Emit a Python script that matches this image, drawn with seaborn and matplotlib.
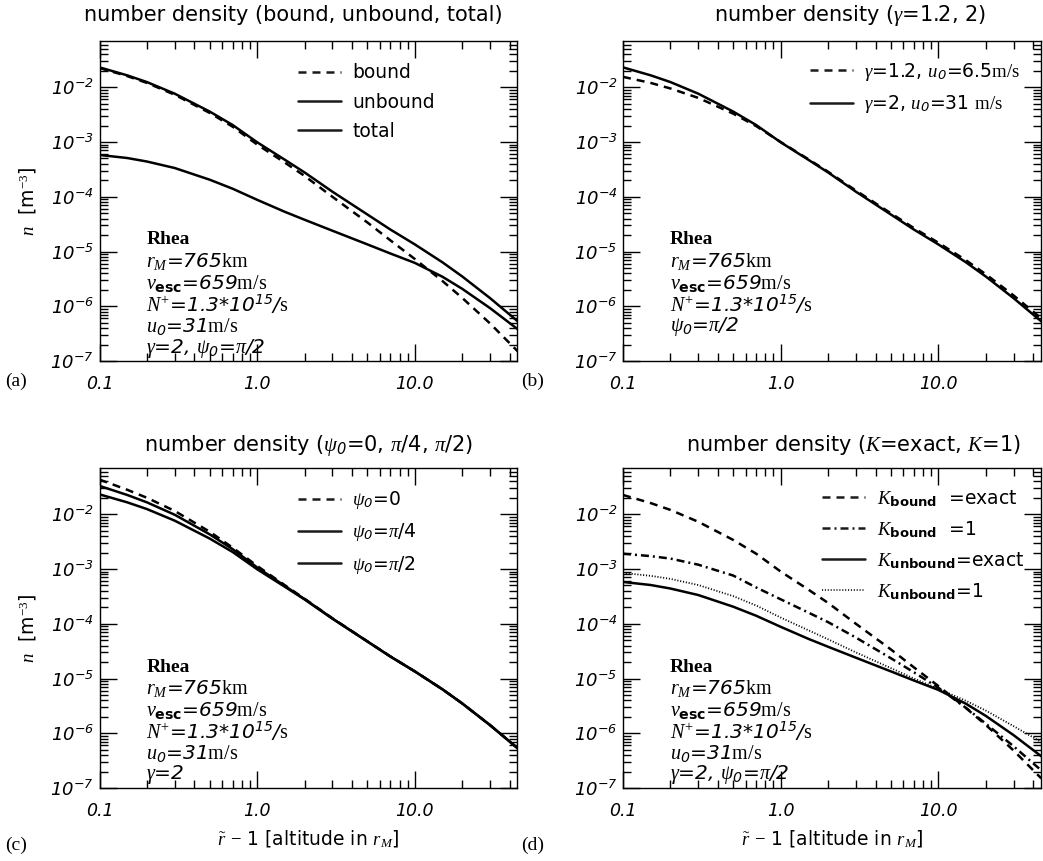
import numpy as np
import pandas as pd
import matplotlib
matplotlib.use("Agg")
import matplotlib.pyplot as plt
from matplotlib.ticker import FixedLocator, FixedFormatter, NullFormatter
from matplotlib.lines import Line2D
import seaborn as sns

# ---------------- data ----------------
alt = [0.1, 0.15, 0.2, 0.3, 0.5, 0.7, 1.0, 1.5, 2.0, 3.0, 5.0, 7.0, 10.0, 15.0, 20.0, 30.0, 45.0]

# panel (a)
bound = [2.25e-2, 1.6e-2, 1.2e-2, 7.3e-3, 3.4e-3, 1.9e-3, 9.0e-4, 4.2e-4, 2.4e-4, 1.0e-4,
         3.4e-5, 1.6e-5, 7.3e-6, 2.88e-6, 1.42e-6, 4.86e-7, 1.5e-7]
unbound = [5.8e-4, 5.1e-4, 4.4e-4, 3.35e-4, 2.05e-4, 1.4e-4, 8.8e-5, 5.3e-5, 3.8e-5, 2.4e-5,
           1.35e-5, 9.2e-6, 6.2e-6, 3.45e-6, 2.08e-6, 9.26e-7, 3.8e-7]
total = [2.31e-2, 1.65e-2, 1.244e-2, 7.64e-3, 3.6e-3, 2.04e-3, 9.9e-4, 4.73e-4, 2.78e-4, 1.24e-4,
         4.75e-5, 2.52e-5, 1.35e-5, 6.33e-6, 3.5e-6, 1.41e-6, 5.3e-7]

# panel (b)
gamma12 = [1.55e-2, 1.2e-2, 9.5e-3, 6.4e-3, 3.3e-3, 1.95e-3, 1.0e-3, 4.85e-4, 2.86e-4, 1.3e-4,
           5.0e-5, 2.68e-5, 1.45e-5, 6.9e-6, 3.85e-6, 1.58e-6, 6.0e-7]
gamma2 = total

# panel (c)
psi_0 = [4.3e-2, 2.8e-2, 2.0e-2, 1.15e-2, 4.8e-3, 2.45e-3, 1.14e-3, 5.05e-4, 2.86e-4, 1.26e-4,
         4.78e-5, 2.53e-5, 1.35e-5, 6.33e-6, 3.5e-6, 1.41e-6, 5.3e-7]
psi_pi4 = [3.3e-2, 2.25e-2, 1.65e-2, 9.8e-3, 4.3e-3, 2.3e-3, 1.07e-3, 4.9e-4, 2.82e-4, 1.25e-4,
           4.76e-5, 2.52e-5, 1.35e-5, 6.33e-6, 3.5e-6, 1.41e-6, 5.3e-7]
psi_pi2 = total

# panel (d)
kb_exact = bound
kb_one = [1.9e-3, 1.72e-3, 1.55e-3, 1.2e-3, 7.6e-4, 4.6e-4, 2.8e-4, 1.6e-4, 1.07e-4, 5.6e-5,
          2.35e-5, 1.3e-5, 6.8e-6, 2.9e-6, 1.5e-6, 5.8e-7, 2.1e-7]
ku_exact = unbound
ku_one = [8.5e-4, 7.5e-4, 6.6e-4, 5.1e-4, 3.2e-4, 2.15e-4, 1.3e-4, 7.6e-5, 5.2e-5, 3.0e-5,
          1.55e-5, 1.0e-5, 6.5e-6, 3.9e-6, 2.6e-6, 1.35e-6, 6.9e-7]

xticks = [0.1, 1.0, 10.0]
xticklabels = ["0.1", "1.0", "10.0"]
yticks = [1e-7, 1e-6, 1e-5, 1e-4, 1e-3, 1e-2]
yticklabels = [r"$\mathsf{10^{-%d}}$" % k for k in (7, 6, 5, 4, 3, 2)]

# ---------------- style ----------------
sns.set_theme(style="ticks")
plt.rcParams.update({
    "font.family": ["DejaVu Sans"],
    "mathtext.fontset": "custom",
    "mathtext.rm": "Liberation Serif",
    "mathtext.it": "Liberation Serif:italic",
    "mathtext.bf": "DejaVu Sans:bold",
    "mathtext.sf": "DejaVu Sans:italic",
    "axes.linewidth": 1.0,
    "axes.edgecolor": "black",
    "axes.labelcolor": "black",
    "text.color": "black",
    "xtick.color": "black",
    "ytick.color": "black",
    "xtick.labelcolor": "black",
    "ytick.labelcolor": "black",
})

W, H = 1043, 861
fig = plt.figure(figsize=(W / 100, H / 100), dpi=100)
fig.patch.set_facecolor("white")


def make_ax(left, top):
    w = 417.5
    h = 320
    return fig.add_axes([left / W, (H - top - h) / H, w / W, h / H])


axA = make_ax(99.5, 41)
axB = make_ax(623, 41)
axC = make_ax(99.5, 468)
axD = make_ax(623, 468)

DASH = (0, (3.2, 2.4))
DASHDOT = (0, (3.2, 1.6, 0.8, 1.6))
DOT = (0, (0.6, 1.0))
LW = 1.8


def draw(ax, y, ls, label, lw=LW):
    sns.lineplot(x=alt, y=y, ax=ax, color="black", linewidth=lw, linestyle=ls,
                 label=label, estimator=None, sort=True)


def style_axes(ax):
    ax.set_xscale("log")
    ax.set_yscale("log")
    ax.set_xlim(0.1, 44.5)
    ax.set_ylim(1e-7, 0.07)
    ax.xaxis.set_major_locator(FixedLocator(xticks))
    ax.xaxis.set_major_formatter(FixedFormatter(xticklabels))
    minx = [v * m for v in (0.1, 1, 10) for m in range(2, 10) if v * m < 45]
    ax.xaxis.set_minor_locator(FixedLocator(minx))
    ax.xaxis.set_minor_formatter(NullFormatter())
    ax.yaxis.set_major_locator(FixedLocator(yticks))
    ax.yaxis.set_major_formatter(FixedFormatter(yticklabels))
    miny = [10.0 ** e * m for e in range(-7, -1) for m in range(2, 10) if 10.0 ** e * m < 0.07]
    ax.yaxis.set_minor_locator(FixedLocator(miny))
    ax.yaxis.set_minor_formatter(NullFormatter())
    ax.tick_params(which="both", direction="in", top=True, right=True, width=1.0)
    ax.tick_params(which="major", length=12.5)
    ax.tick_params(which="minor", length=6)
    ax.tick_params(axis="x", which="major", pad=10, labelsize=12.5)
    ax.tick_params(axis="y", which="major", pad=4, labelsize=13)
    for lab in ax.get_xticklabels():
        lab.set_fontstyle("italic")
    ax.set_xlabel("")
    ax.set_ylabel("")
    for s in ax.spines.values():
        s.set_visible(True)
        s.set_color("black")


def legend(ax, handles, labels, x, y):
    ax.legend(handles, labels, loc="upper left", bbox_to_anchor=(x, y), frameon=False,
              borderpad=0, borderaxespad=0, handlelength=2.3, handletextpad=0.6,
              labelspacing=0.55, fontsize=13.5)


def info(ax, lines):
    y0 = 361 - 240
    for i, t in enumerate(lines):
        yy = (y0 - i * 21.6) / 320
        if i == 0:
            ax.text(0.112, yy, t, transform=ax.transAxes, va="center", ha="left",
                    fontsize=14, family="Liberation Serif", fontweight="bold")
        else:
            ax.text(0.112, yy, t, transform=ax.transAxes, va="center", ha="left",
                    fontsize=14.5, fontstyle="italic")


L_rm = r"$r_M$=765$\mathrm{km}$"
L_v = r"$v_{\mathbf{esc}}$=659$\mathrm{m/s}$"
L_N = r"$N^{+}$=1.3*10$^{\mathsf{15}}$/$\mathrm{s}$"
L_u = r"$u_{\mathsf{0}}$=31$\mathrm{m/s}$"
L_g = r"$\gamma$=2, $\psi_{\mathsf{0}}$=$\pi$/2"
L_psi = r"$\psi_{\mathsf{0}}$=$\pi$/2"

# ---------- (a) ----------
draw(axA, bound, DASH, "bound")
draw(axA, unbound, "-", "unbound")
draw(axA, total, "-", "total")
style_axes(axA)
legend(axA, [Line2D([], [], color="k", lw=LW, ls=DASH), Line2D([], [], color="k", lw=LW),
             Line2D([], [], color="k", lw=LW)], ["bound", "unbound", "total"], 0.475, 0.93)
info(axA, ["Rhea", L_rm, L_v, L_N, L_u, L_g])

# ---------- (b) ----------
draw(axB, gamma12, DASH, "g12")
draw(axB, gamma2, "-", "g2")
style_axes(axB)
legend(axB, [Line2D([], [], color="k", lw=LW, ls=DASH), Line2D([], [], color="k", lw=LW)],
       [r"$\gamma$=1.2, $u_{\mathsf{0}}$=6.5$\mathrm{m/s}$",
        r"$\gamma$=2, $u_{\mathsf{0}}$=31 $\mathrm{m/s}$"], 0.448, 0.9375)
info(axB, ["Rhea", L_rm, L_v, L_N, L_psi])

# ---------- (c) ----------
draw(axC, psi_0, DASH, "p0")
draw(axC, psi_pi4, "-", "p4")
draw(axC, psi_pi2, "-", "p2")
style_axes(axC)
legend(axC, [Line2D([], [], color="k", lw=LW, ls=DASH), Line2D([], [], color="k", lw=LW),
             Line2D([], [], color="k", lw=LW)],
       [r"$\psi_{\mathsf{0}}$=0", r"$\psi_{\mathsf{0}}$=$\pi$/4", r"$\psi_{\mathsf{0}}$=$\pi$/2"],
       0.475, 0.934)
info(axC, ["Rhea", L_rm, L_v, L_N, L_u, r"$\gamma$=2"])

# ---------- (d) ----------
draw(axD, kb_exact, DASH, "kbe")
draw(axD, kb_one, DASHDOT, "kb1")
draw(axD, ku_exact, "-", "kue")
draw(axD, ku_one, DOT, "ku1", lw=1.3)
style_axes(axD)
legend(axD, [Line2D([], [], color="k", lw=LW, ls=DASH), Line2D([], [], color="k", lw=LW, ls=DASHDOT),
             Line2D([], [], color="k", lw=LW), Line2D([], [], color="k", lw=1.3, ls=DOT)],
       [r"$K_{\mathbf{bound}}$  =exact", r"$K_{\mathbf{bound}}$  =1",
        r"$K_{\mathbf{unbound}}$=exact", r"$K_{\mathbf{unbound}}$=1"], 0.477, 0.9375)
info(axD, ["Rhea", L_rm, L_v, L_N, L_u, L_g])

# ---------- titles, labels ----------
tkw = dict(fontsize=15, ha="center", va="center")
fig.text(293 / W, 1 - 15 / H, "number density (bound, unbound, total)", **tkw)
fig.text(850 / W, 1 - 15 / H, r"number density ($\gamma$=1.2, 2)", **tkw)
fig.text(308 / W, 1 - 445 / H, r"number density ($\psi_{\mathsf{0}}$=0, $\pi$/4, $\pi$/2)", **tkw)
fig.text(853 / W, 1 - 445 / H, r"number density ($K$=exact, $K$=1)", **tkw)

for ax in (axA, axC):
    ax.set_ylabel(r"$n$  [m$^{-3}$]", fontsize=13.5, labelpad=8)
for ax in (axC, axD):
    ax.set_xlabel(r"$\tilde{r}$ $-$ 1 [altitude in $r_M$]", fontsize=13.5, labelpad=6)

pl = dict(fontsize=14, family="Liberation Serif", ha="left", va="center")
fig.text(5 / W, 1 - 381 / H, "(a)", **pl)
fig.text(521 / W, 1 - 381 / H, "(b)", **pl)
fig.text(5 / W, 1 - 845 / H, "(c)", **pl)
fig.text(521 / W, 1 - 845 / H, "(d)", **pl)

fig.savefig("out.png", dpi=100, facecolor="white")
